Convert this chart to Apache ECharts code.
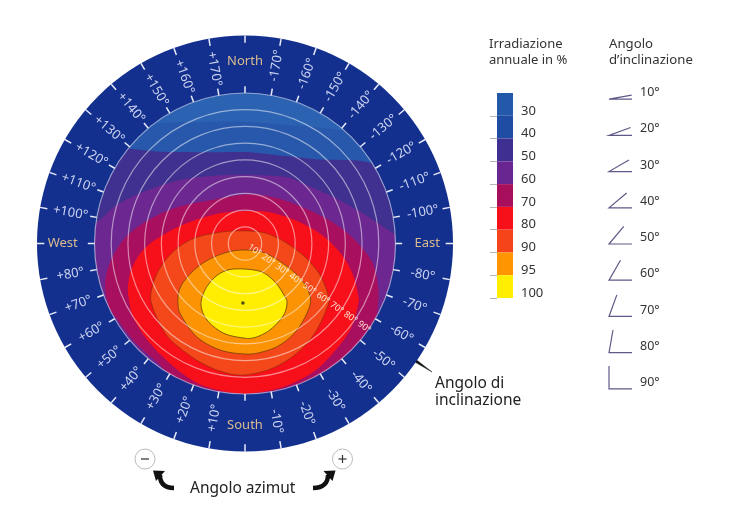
<!DOCTYPE html>
<html><head><meta charset="utf-8">
<style>html,body{margin:0;padding:0;background:#fff}#c{width:756px;height:513px}</style>
<script src="https://cdn.jsdelivr.net/npm/echarts@6/dist/echarts.min.js"></script>
</head><body><div id="c"></div>
<script>
// legend
var legendLabels = ['30','40','50','60','70','80','90','95','100'];
var legendColors = ['#2459aa','#1f4da3','#3f2f90','#6a2690','#a70f5c','#f70f1a','#f5441a','#ff9500','#ffee00'];
// inclination glyphs
var tiltAngles = [10,20,30,40,50,60,70,80,90];
var tiltLabels = ['10°','20°','30°','40°','50°','60°','70°','80°','90°'];
// dial
var azimuthAngles = [-170,-160,-150,-140,-130,-120,-110,-100,-90,-80,-70,-60,-50,-40,-30,-20,-10,0,10,20,30,40,50,60,70,80,90,100,110,120,130,140,150,160,170,180];
var azimuthLabels = ['-170°','-160°','-150°','-140°','-130°','-120°','-110°','-100°','East','-80°','-70°','-60°','-50°','-40°','-30°','-20°','-10°','South','+10°','+20°','+30°','+40°','+50°','+60°','+70°','+80°','West','+100°','+110°','+120°','+130°','+140°','+150°','+160°','+170°','North'];
// contours of annual irradiation: [tilt, azimuth]
var contour40 = [[72.7,-180],[75.4,-160],[88.6,-140],[108,-125],[112,-100],[112,-60],[112,-20],[112,20],[112,60],[112,100],[112,125],[93,140],[77.3,160]];
var contour50 = [[54.7,-180],[56.2,-160],[65.8,-140],[93,-120],[112,-100],[112,-60],[112,-20],[112,20],[112,60],[112,100],[109,120],[71.4,140],[58,160]];
var contour60 = [[41,-180],[46.4,-149],[49.7,-136.7],[64.5,-112],[84.2,-96.3],[105,-85],[112,-60],[112,-20],[112,20],[112,60],[105,90],[87.9,99.2],[78.6,108],[60.7,125.2],[48,146]];
var contour70 = [[29.3,-180],[32.2,-149.9],[40.5,-122.6],[53.6,-103.9],[65.8,-91.8],[76.8,-81.7],[83.3,-72.7],[87.6,-65.2],[90,-59],[91,-45],[93,-30],[96,-10],[96,15],[92,28],[88.7,35],[88.4,49],[89.5,62.8],[89.8,65.8],[86.8,74.6],[80,83.8],[70.2,94.2],[57.7,105.3],[45.6,118.6],[32.7,142.8]];
var contour80 = [[19.4,-180],[23.3,-143.9],[33,-115.2],[46.3,-96.3],[58.4,-83.2],[67.3,-73.7],[74.3,-65.5],[77,-61.4],[81.4,-50.5],[84,-38.8],[87,-27.9],[88.8,-14.8],[89.7,0],[88.9,13.6],[87,23.5],[83.7,35.8],[81.9,46.9],[80.1,56.7],[78,61.9],[74.9,69.2],[69.2,77.8],[59.9,87.4],[46.6,98.5],[33,115.2],[22.8,143]];
var contour90 = [[7.5,-180],[13.5,-117.7],[23.9,-92.1],[36.8,-77.3],[48.6,-67.2],[58.4,-58.2],[61.8,-53.5],[67.9,-38],[72.5,-25.4],[76.3,-12.7],[78.6,0],[78,9.7],[75.8,20.8],[73.6,31.9],[71.8,41.8],[66.7,56.5],[61.7,64.4],[52.9,73.9],[42,84.7],[30.1,96.3],[15.4,116.6]];
var contour95 = [[3.9,0],[11.4,-63.4],[22.1,-63.4],[34.7,-59.5],[45.6,-54.3],[53.5,-46.6],[60.4,-31],[64.2,-19],[65.7,-8.9],[66.1,0],[65.4,13.2],[62.9,27.2],[57.9,40.6],[54.4,47.4],[47.1,55.6],[36,61.7],[24.2,66],[11.4,63.4]];
var contour100 = [[15.3,0],[19.9,-30.8],[29.2,-37.9],[38.6,-37.1],[43.6,-35.2],[49,-27.7],[53.8,-16.1],[56.5,-6.1],[56.5,1.2],[55.1,13.8],[51.1,26.4],[45.2,35.6],[36.7,40.7],[26.9,41.8],[18.8,32.7]];
var contours = [contour40,contour50,contour60,contour70,contour80,contour90,contour95,contour100];
var contourColors = ['#2858ab','#40308f','#6c2890','#a80f5e','#f70f1a','#f5481a','#fb9305','#ffee00'];
var contourEdges = ['none','none','none','none','none','rgba(120,50,10,.55)','rgba(110,60,10,.75)','rgba(110,70,10,.85)'];
var peak = [35.6,2];
var ringTilts = [10,20,30,40,50,60,70,80,90];
var FONT = '"Noto Sans",sans-serif';
var DIAL_OUT = 124.4, AZ_FOR_RING_LABELS = -55;

function dist(a,b){return Math.sqrt((a[0]-b[0])*(a[0]-b[0])+(a[1]-b[1])*(a[1]-b[1]));}
function line(p,q,w,c){return {type:'line',shape:{x1:p[0],y1:p[1],x2:q[0],y2:q[1]},style:{stroke:c,lineWidth:w}};}
// closed curve through the projected contour vertices
function spline(pts){
  var out=[],n=pts.length,S=6;
  for(var i=0;i<n;i++){
    var a=pts[(i-1+n)%n],b=pts[i],c=pts[(i+1)%n],d=pts[(i+2)%n];
    for(var k=0;k<S;k++){
      var t=k/S,t2=t*t,t3=t2*t;
      out.push([0,1].map(function(j){
        return 0.5*(2*b[j]+(c[j]-a[j])*t+(2*a[j]-5*b[j]+4*c[j]-d[j])*t2+(3*b[j]-a[j]-3*c[j]+d[j])*t3);
      }));
    }
  }
  return out;
}

var chart = echarts.init(document.getElementById('c'),null,{renderer:'canvas'});
var option = {
  animation:false,
  backgroundColor:'#fff',
  textStyle:{fontFamily:FONT},
  polar:{center:[245,243.5],radius:150.5},
  angleAxis:{type:'value',min:-180,max:180,startAngle:90,show:false},
  radiusAxis:{type:'value',min:0,max:90,interval:10,z:5,axisLine:{show:false},axisTick:{show:false},axisLabel:{show:false},
    splitLine:{show:true,lineStyle:{color:'rgba(255,255,255,0.5)',width:1.2}}},
  grid:[
    {left:497,top:93,width:16,height:205},
    {left:609,top:81,width:23,height:326}
  ],
  xAxis:[
    {type:'value',gridIndex:0,min:0,max:1,show:false},
    {type:'value',gridIndex:1,min:0,max:1,show:false}
  ],
  yAxis:[
    {type:'category',gridIndex:0,inverse:true,position:'right',data:legendLabels,
      axisLine:{show:false},
      axisTick:{show:true,inside:true,length:7,interval:function(i){return i>0;},lineStyle:{color:'#b5b5b5',width:1}},
      axisLabel:{interval:0,margin:8,verticalAlign:'top',color:'#333',fontSize:13,fontFamily:FONT}},
    {type:'category',gridIndex:1,inverse:true,position:'right',data:tiltLabels,
      axisLine:{show:false},axisTick:{show:false},
      axisLabel:{interval:0,margin:8,verticalAlign:'bottom',color:'#333',fontSize:12.5,fontFamily:FONT}}
  ],
  series:[
    // dial discs
    {type:'custom',coordinateSystem:'polar',z:1,silent:true,data:[[0,0]],renderItem:function(p,api){
      var c=api.coord([0,0]),o=dist(c,api.coord([DIAL_OUT,0])),i=dist(c,api.coord([90,0]));
      return {type:'group',children:[
        {type:'circle',shape:{cx:c[0],cy:c[1],r:o},style:{fill:'#13308f'}},
        {type:'circle',shape:{cx:c[0],cy:c[1],r:i},style:{fill:'#2b62b2'}}
      ]};
    }},
    // contour bands
    {type:'custom',coordinateSystem:'polar',z:2,silent:true,data:contours.map(function(c,i){return [0,0,i];}),renderItem:function(p,api){
      var i=p.dataIndex,c=api.coord([0,0]),r=dist(c,api.coord([90,0]));
      var pts=contours[i].map(function(d){return api.coord([d[0],d[1]]);});
      return {type:'polygon',shape:{points:spline(pts)},
        clipPath:{type:'circle',shape:{cx:c[0],cy:c[1],r:r}},
        style:{fill:contourColors[i],stroke:contourEdges[i],lineWidth:1}};
    }},
    // ring labels
    {type:'custom',coordinateSystem:'polar',z:6,silent:true,data:ringTilts.map(function(t){return [t-3,AZ_FOR_RING_LABELS];}),renderItem:function(p,api){
      var q=api.coord([api.value(0),api.value(1)]);
      return {type:'text',x:q[0],y:q[1],rotation:-35*Math.PI/180,
        style:{text:ringTilts[p.dataIndex]+'°',fill:'#ffe2d0',font:'9px '+FONT,align:'center',verticalAlign:'middle'}};
    }},
    // optimum dot
    {type:'scatter',coordinateSystem:'polar',z:6,silent:true,symbolSize:3.5,itemStyle:{color:'#222'},data:[peak]},
    // azimuth ticks and labels
    {type:'custom',coordinateSystem:'polar',z:4,silent:true,data:azimuthAngles.map(function(a){return [90,a];}),renderItem:function(p,api){
      var a=api.value(1),txt=azimuthLabels[p.dataIndex],card=/[a-z]/i.test(txt);
      var inner=[api.coord([90,a]),api.coord([94,a])],outer=[api.coord([120,a]),api.coord([DIAL_OUT,a])];
      var west=a>0&&a<180;
      var q=api.coord([card?109:(west?106:108),a]);
      var rad=a*Math.PI/180,theta=(west?Math.atan2(-Math.cos(rad),Math.sin(rad)):Math.atan2(Math.cos(rad),-Math.sin(rad)));
      if(card)theta=0;
      return {type:'group',children:[
        line(inner[0],inner[1],1.5,'#e8ebf8'),
        line(outer[0],outer[1],1.5,'#e8ebf8'),
        {type:'text',x:q[0],y:q[1],rotation:-theta,style:{text:txt,fill:card?'#d9bb8e':'#ccd3f0',font:'13px '+FONT,align:'center',verticalAlign:'middle'}}
      ]};
    }},
    // legend bar
    {type:'bar',xAxisIndex:0,yAxisIndex:0,barCategoryGap:0,silent:true,data:legendColors.map(function(c){return {value:1,itemStyle:{color:c}};})},
    // tilt glyphs
    {type:'custom',xAxisIndex:1,yAxisIndex:1,silent:true,data:tiltAngles.map(function(t,i){return [0,i];}),encode:{x:0,y:1},renderItem:function(p,api){
      var v=api.coord([0,p.dataIndex]),len=api.size([1,0])[0],t=tiltAngles[p.dataIndex]*Math.PI/180;
      return {type:'polyline',shape:{points:[[v[0]+len*Math.cos(t),v[1]-len*Math.sin(t)],v,[v[0]+len,v[1]]]},style:{fill:'none',stroke:'#5d5a88',lineWidth:1.2}};
    }}
  ],
  graphic:[
    {type:'text',left:489,top:36,style:{text:'Irradiazione\nannuale in %',fill:'#333',font:'13px '+FONT,lineHeight:16}},
    {type:'text',left:609,top:36,style:{text:'Angolo\nd’inclinazione',fill:'#333',font:'13.2px '+FONT,lineHeight:16}},
    {type:'text',left:435,top:375,style:{text:'Angolo di\ninclinazione',fill:'#222',font:'15.5px '+FONT,lineHeight:17}},
    {type:'text',left:190,top:481,style:{text:'Angolo azimut',fill:'#222',font:'15.5px '+FONT}},
    {type:'circle',shape:{cx:145,cy:459,r:10},style:{fill:'#fff',stroke:'#bdbdbd',lineWidth:1}},
    {type:'circle',shape:{cx:342.5,cy:459,r:10},style:{fill:'#fff',stroke:'#bdbdbd',lineWidth:1}},
    {type:'line',shape:{x1:141,y1:459,x2:149,y2:459},style:{stroke:'#555',lineWidth:1.5}},
    {type:'line',shape:{x1:338.5,y1:459,x2:346.5,y2:459},style:{stroke:'#333',lineWidth:1.2}},
    {type:'line',shape:{x1:342.5,y1:455,x2:342.5,y2:463},style:{stroke:'#333',lineWidth:1.2}},
    {type:'bezierCurve',shape:{x1:174,y1:488,x2:160,y2:475,cpx1:163,cpy1:488,cpx2:160,cpy2:482},style:{fill:'none',stroke:'#111',lineWidth:4.5}},
    {type:'polygon',shape:{points:[[153,470.5],[165,471],[156,481]]},style:{fill:'#111'}},
    {type:'bezierCurve',shape:{x1:313,y1:488,x2:328,y2:475,cpx1:324,cpy1:488,cpx2:328,cpy2:482},style:{fill:'none',stroke:'#111',lineWidth:4.5}},
    {type:'polygon',shape:{points:[[335.5,470.5],[323.5,471],[332.5,481]]},style:{fill:'#111'}},
    {type:'polygon',shape:{points:[[373,332.5],[384,334],[400,347],[432,372],[396,351],[377,342]]},style:{fill:'#111',stroke:'#222',lineWidth:.5}}
  ]
};
chart.setOption(option);
</script></body></html>
